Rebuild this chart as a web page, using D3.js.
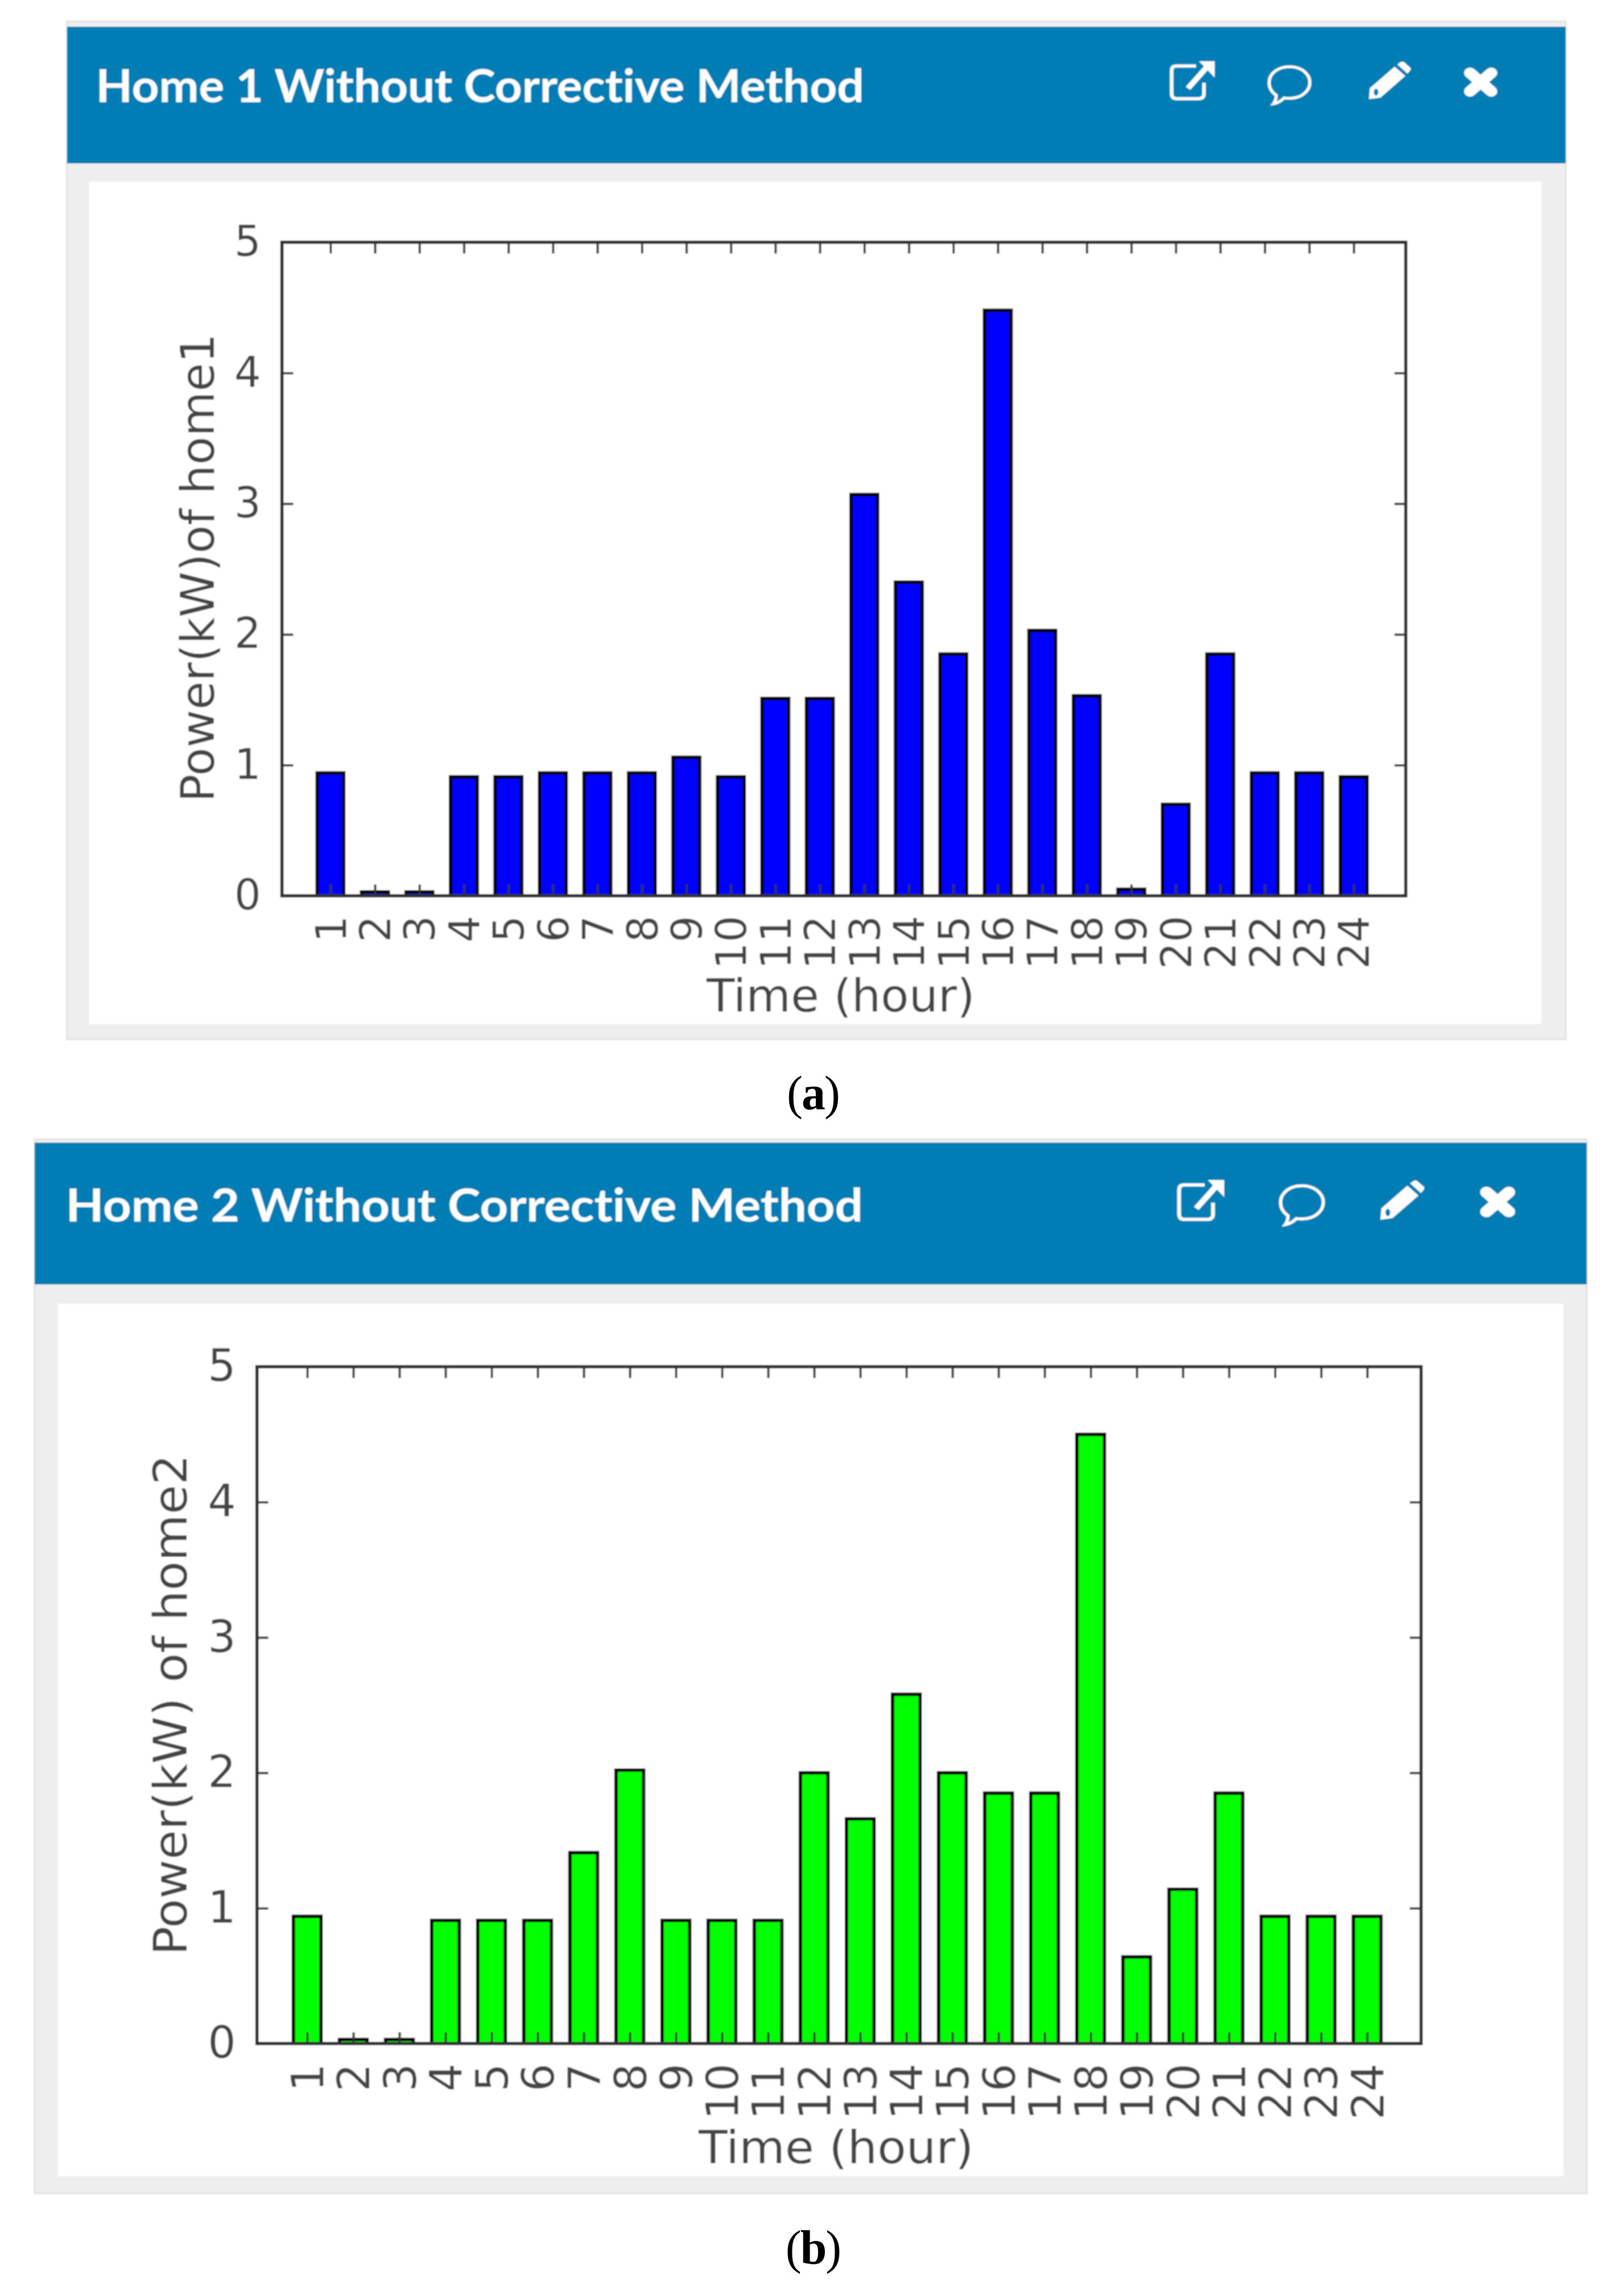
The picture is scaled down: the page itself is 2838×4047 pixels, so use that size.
<!DOCTYPE html>
<html>
<head>
<meta charset="utf-8">
<script src="https://cdn.jsdelivr.net/npm/d3@7"></script>
<style>
    body { margin: 0; background: #fff; }
    svg { display: block; }
    .tick text { fill: #444; font-family: "DejaVu Sans", sans-serif; }
</style>
</head>
<body>
<svg width="2838" height="4047"></svg>
<script>
const hours = d3.range(1, 25);
const yTicks = [0, 1, 2, 3, 4, 5];

const home1Power = [0.94, 0.03, 0.03, 0.91, 0.91, 0.94, 0.94, 0.94, 1.06, 0.91, 1.51, 1.51,
    3.07, 2.40, 1.85, 4.48, 2.03, 1.53, 0.05, 0.70, 1.85, 0.94, 0.94, 0.91];
const home2Power = [0.94, 0.03, 0.03, 0.91, 0.91, 0.91, 1.41, 2.02, 0.91, 0.91, 0.91, 2.00,
    1.66, 2.58, 2.00, 1.85, 1.85, 4.50, 0.64, 1.14, 1.85, 0.94, 0.94, 0.94];

const svg = d3.select("svg");

svg.append("defs").append("filter").attr("id", "soft")
    .attr("filterUnits", "userSpaceOnUse")
    .attr("x", 0).attr("y", 0).attr("width", 2838).attr("height", 4047)
    .append("feGaussianBlur").attr("stdDeviation", 1.1);

const panelA = {
    title: "Home 1 Without Corrective Method", yTitle: "Power(kW)of home1",
    values: home1Power, fill: "#0000ff",
    outer: [118, 38, 2760, 1832], header: [47, 288], inner: [157, 320, 2717, 1805],
    plot: [497, 427, 2478, 1579],
    titleX: 169, titleY: 180, titleLen: 1354,
    icons: [2063, 2234, 2410, 2571], iconY: 108, iconScale: 1,
    tickFont: 74, yTitleX: 377, yTitleLen: 826, yTitleMid: 1001,
    xTitleX: 1482, xTitleY: 1783, xTitleLen: 473
};
const panelB = {
    title: "Home 2 Without Corrective Method", yTitle: "Power(kW) of home2",
    values: home2Power, fill: "#00ff00",
    outer: [61, 2008, 2797, 3866], header: [2014, 2264], inner: [102, 2298, 2756, 3836],
    plot: [453, 2409, 2505, 3602],
    titleX: 116, titleY: 2153, titleLen: 1405,
    icons: [2076, 2254, 2430, 2599], iconY: 2080, iconScale: 1.05,
    tickFont: 78, yTitleX: 329, yTitleLen: 883, yTitleMid: 3005,
    xTitleX: 1474, xTitleY: 3813, xTitleLen: 485
};

// icons are drawn in a 100x100 box
function addIcon(g, kind) {
    if (kind === 0) {
        g.append("path").attr("fill", "none").attr("stroke", "#fff").attr("stroke-width", 8)
            .attr("d", "M58,12 H14 Q3,12 3,24 V84 Q3,97 14,97 H64 Q76,97 76,84 V56");
        g.append("path").attr("fill", "none").attr("stroke", "#fff").attr("stroke-width", 13)
            .attr("d", "M40,70 L85,12");
        g.append("path").attr("fill", "#fff").attr("d", "M65,0 H100 V42 Z");
    } else if (kind === 1) {
        g.append("path").attr("fill", "none").attr("stroke", "#fff").attr("stroke-width", 7)
            .attr("d", "M50,14 C76,14 96,32 96,55 C96,78 76,96 50,96 C46,96 42,96 38,95 C32,102 24,108 14,110 C18,104 20,96 20,88 C10,80 4,68 4,55 C4,32 24,14 50,14 Z");
    } else if (kind === 2) {
        g.append("path").attr("fill", "#fff")
            .attr("d", "M6,70 L62,14 L86,38 L30,94 L4,98 Z M68,8 L76,2 Q80,0 84,3 L97,16 Q100,20 97,24 L91,32 Z");
        g.append("ellipse").attr("cx", 20).attr("cy", 80).attr("rx", 5).attr("ry", 9)
            .attr("fill", "#007db5");
    } else {
        g.append("path").attr("fill", "none").attr("stroke", "#fff").attr("stroke-width", 27)
            .attr("stroke-linecap", "round")
            .attr("d", "M26,30 L74,78 M74,30 L26,78");
    }
}

function drawPanel(p) {
    const g = svg.append("g").attr("filter", "url(#soft)");
    const [x0, y0, x1, y1] = p.outer;

    g.append("rect").attr("x", x0).attr("y", y0).attr("width", x1 - x0).attr("height", y1 - y0)
        .attr("fill", "#eeeeee").attr("stroke", "#e2e2e2").attr("stroke-width", 3);
    g.append("rect").attr("x", x0).attr("y", p.header[0]).attr("width", x1 - x0)
        .attr("height", p.header[1] - p.header[0]).attr("fill", "#007db5");
    g.append("rect").attr("x", p.inner[0]).attr("y", p.inner[1])
        .attr("width", p.inner[2] - p.inner[0]).attr("height", p.inner[3] - p.inner[1])
        .attr("fill", "#fff");

    g.append("text")
        .attr("x", p.titleX).attr("y", p.titleY)
        .attr("font-family", "Lato, sans-serif").attr("font-weight", "bold")
        .attr("font-size", 80).attr("fill", "#fff")
        .style("font-variant-ligatures", "none")
        .attr("textLength", p.titleLen).attr("lengthAdjust", "spacingAndGlyphs")
        .text(p.title);

    p.icons.forEach((ix, i) => {
        const sx = 0.78 * p.iconScale, sy = 0.68 * p.iconScale;
        addIcon(g.append("g").attr("transform", `translate(${ix},${p.iconY}) scale(${sx},${sy})`), i);
    });

    const [pl, pt, pr, pb] = p.plot;
    const x = d3.scaleLinear().domain([-0.09, 25.17]).range([pl, pr]);
    const y = d3.scaleLinear().domain([0, 5]).range([pb, pt]);
    const barWidth = x(0.6) - x(0);

    g.selectAll("rect.bar")
        .data(p.values)
        .join("rect")
        .attr("class", "bar")
        .attr("x", (d, i) => x(hours[i]) - barWidth / 2)
        .attr("y", d => y(d))
        .attr("width", barWidth)
        .attr("height", d => y(0) - y(d))
        .attr("fill", p.fill)
        .attr("stroke", "#000")
        .attr("stroke-width", 6);

    const xBottom = g.append("g")
        .attr("transform", `translate(0,${pb})`)
        .call(d3.axisBottom(x).tickValues(hours).tickSize(-20));
    const xTop = g.append("g")
        .attr("transform", `translate(0,${pt})`)
        .call(d3.axisTop(x).tickValues(hours).tickSize(-20).tickFormat(""));
    const yLeft = g.append("g")
        .attr("transform", `translate(${pl},0)`)
        .call(d3.axisLeft(y).tickValues(yTicks).tickFormat(d3.format("d")).tickSize(-20).tickPadding(37));
    const yRight = g.append("g")
        .attr("transform", `translate(${pr},0)`)
        .call(d3.axisRight(y).tickValues(yTicks).tickSize(-20).tickFormat(""));

    [xBottom, xTop, yLeft, yRight].forEach(a => {
        a.select(".domain").remove();
        a.selectAll("line").attr("stroke", "#333").attr("stroke-width", 4);
    });

    yLeft.selectAll("text").style("font-size", p.tickFont + "px");
    xBottom.selectAll("text")
        .style("font-size", p.tickFont + "px")
        .attr("text-anchor", "end")
        .attr("transform", "rotate(-90)")
        .attr("x", -35)
        .attr("y", 0)
        .attr("dy", "0.36em");

    g.append("rect")
        .attr("x", pl).attr("y", pt).attr("width", pr - pl).attr("height", pb - pt)
        .attr("fill", "none").attr("stroke", "#333").attr("stroke-width", 6);

    g.append("text")
        .attr("transform", `translate(${p.yTitleX},${p.yTitleMid}) rotate(-90)`)
        .attr("text-anchor", "middle")
        .attr("font-family", "DejaVu Sans, sans-serif")
        .attr("font-size", 82).attr("fill", "#444")
        .attr("textLength", p.yTitleLen).attr("lengthAdjust", "spacingAndGlyphs")
        .text(p.yTitle);

    g.append("text")
        .attr("x", p.xTitleX).attr("y", p.xTitleY)
        .attr("text-anchor", "middle")
        .attr("font-family", "DejaVu Sans, sans-serif")
        .attr("font-size", 80).attr("fill", "#444")
        .attr("textLength", p.xTitleLen).attr("lengthAdjust", "spacingAndGlyphs")
        .text("Time (hour)");
}

drawPanel(panelA);
drawPanel(panelB);

function caption(letter, cy) {
    const t = svg.append("text")
        .attr("x", 1433).attr("y", cy)
        .attr("text-anchor", "middle")
        .attr("font-family", "Liberation Serif, serif")
        .attr("font-size", 84).attr("letter-spacing", -2).attr("fill", "#000");
    t.append("tspan").text("(");
    t.append("tspan").attr("font-weight", "bold").text(letter);
    t.append("tspan").text(")");
}
caption("a", 1955);
caption("b", 3990);
</script>
</body>
</html>
